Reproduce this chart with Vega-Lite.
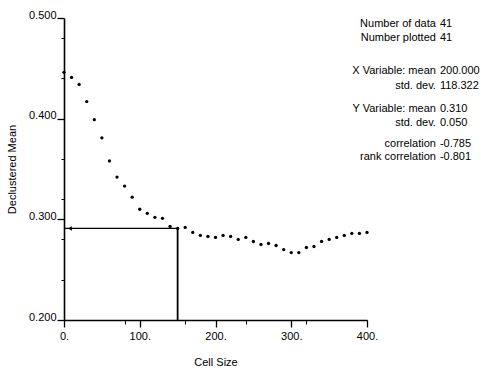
{
  "$schema": "https://vega.github.io/schema/vega-lite/v6.json",
  "width": 303,
  "height": 302,
  "padding": {"left": 6, "top": 9, "right": 0, "bottom": 0},
  "autosize": {"type": "pad"},
  "background": "white",
  "config": {
    "font": "Liberation Sans",
    "view": {"stroke": null},
    "axis": {
      "labelColor": "black",
      "labelFontSize": 11,
      "titleFontSize": 11,
      "titleFontWeight": "normal",
      "titleColor": "black",
      "tickColor": "black",
      "domainColor": "black"
    }
  },
  "layer": [
    {
      "layer": [
        {
          "data": {"values": [
            {"cell": 0, "mean": 0.446}, {"cell": 10, "mean": 0.441}, {"cell": 20, "mean": 0.434},
            {"cell": 30, "mean": 0.417}, {"cell": 40, "mean": 0.399}, {"cell": 50, "mean": 0.381},
            {"cell": 60, "mean": 0.358}, {"cell": 70, "mean": 0.342}, {"cell": 80, "mean": 0.333},
            {"cell": 90, "mean": 0.322}, {"cell": 100, "mean": 0.310}, {"cell": 110, "mean": 0.306},
            {"cell": 120, "mean": 0.302}, {"cell": 130, "mean": 0.301}, {"cell": 140, "mean": 0.293},
            {"cell": 150, "mean": 0.291}, {"cell": 160, "mean": 0.292}, {"cell": 170, "mean": 0.287},
            {"cell": 180, "mean": 0.284}, {"cell": 190, "mean": 0.283}, {"cell": 200, "mean": 0.282},
            {"cell": 210, "mean": 0.284}, {"cell": 220, "mean": 0.283}, {"cell": 230, "mean": 0.280},
            {"cell": 240, "mean": 0.282}, {"cell": 250, "mean": 0.278}, {"cell": 260, "mean": 0.275},
            {"cell": 270, "mean": 0.276}, {"cell": 280, "mean": 0.274}, {"cell": 290, "mean": 0.270},
            {"cell": 300, "mean": 0.267}, {"cell": 310, "mean": 0.267}, {"cell": 320, "mean": 0.272},
            {"cell": 330, "mean": 0.273}, {"cell": 340, "mean": 0.278}, {"cell": 350, "mean": 0.280},
            {"cell": 360, "mean": 0.282}, {"cell": 370, "mean": 0.284}, {"cell": 380, "mean": 0.286},
            {"cell": 390, "mean": 0.286}, {"cell": 400, "mean": 0.287}
          ]},
          "mark": {"type": "point", "filled": true, "size": 11, "color": "black", "opacity": 1},
          "encoding": {
            "x": {
              "field": "cell", "type": "quantitative", "title": null,
              "scale": {"domain": [0, 400]},
              "axis": {
                "grid": false,
                "values": [0, 20, 40, 60, 80, 100, 120, 140, 160, 180, 200, 220, 240, 260, 280, 300, 320, 340, 360, 380, 400],
                "labels": false,
                "tickSize": 4,
                "tickWidth": 1,
                "domainWidth": 1.6
              }
            },
            "y": {
              "field": "mean", "type": "quantitative", "title": null,
              "scale": {"domain": [0.2, 0.5]},
              "axis": {
                "grid": false,
                "values": [0.2, 0.22, 0.24, 0.26, 0.28, 0.3, 0.32, 0.34, 0.36, 0.38, 0.4, 0.42, 0.44, 0.46, 0.48, 0.5],
                "labels": false,
                "tickSize": 3,
                "tickWidth": 1,
                "domainWidth": 1.6
              }
            }
          }
        },
        {
          "data": {"values": [{"x0": 0, "x1": 150, "y0": 0.291, "y1": 0.2}]},
          "layer": [
            {
              "mark": {"type": "rule", "color": "black", "strokeWidth": 1.3},
              "encoding": {
                "x": {"field": "x0", "type": "quantitative", "title": null},
                "x2": {"field": "x1"},
                "y": {"field": "y0", "type": "quantitative", "title": null}
              }
            },
            {
              "mark": {"type": "rule", "color": "black", "strokeWidth": 1.8},
              "encoding": {
                "x": {"field": "x1", "type": "quantitative", "title": null},
                "y": {"field": "y0", "type": "quantitative", "title": null},
                "y2": {"field": "y1"}
              }
            },
            {
              "mark": {"type": "point", "shape": "triangle-left", "filled": true, "color": "black", "opacity": 1, "size": 20, "xOffset": 6},
              "encoding": {
                "x": {"field": "x0", "type": "quantitative", "title": null},
                "y": {"field": "y0", "type": "quantitative", "title": null}
              }
            }
          ]
        }
      ]
    },
    {
      "data": {"values": [{"x0": 0, "y0": 0.291}]},
      "mark": {"type": "point", "opacity": 0},
      "encoding": {
        "x": {
          "field": "x0", "type": "quantitative", "title": "Cell Size",
          "scale": {"domain": [0, 400]},
          "axis": {
            "orient": "bottom",
            "grid": false,
            "values": [0, 100, 200, 300, 400],
            "labelExpr": "datum.value + '.'",
            "labelFlush": false,
            "labelOverlap": false,
            "tickSize": 7,
            "tickWidth": 1.3,
            "domain": false,
            "labelPadding": 3,
            "titlePadding": 15
          }
        },
        "y": {
          "field": "y0", "type": "quantitative", "title": "Declustered Mean",
          "scale": {"domain": [0.2, 0.5]},
          "axis": {
            "orient": "left",
            "grid": false,
            "values": [0.2, 0.3, 0.4, 0.5],
            "format": ".3f",
            "labelFlush": false,
            "labelOverlap": false,
            "tickSize": 7,
            "tickWidth": 1.3,
            "domain": false,
            "labelBaseline": "alphabetic",
            "labelPadding": 1,
            "titlePadding": 11
          }
        }
      }
    },
    {
      "data": {"values": [
        {"label": "Number of data", "value": "41", "line": 0},
        {"label": "Number plotted", "value": "41", "line": 1},
        {"label": "X Variable: mean", "value": "200.000", "line": 3.29},
        {"label": "std. dev.", "value": "118.322", "line": 4.36},
        {"label": "Y Variable: mean", "value": "0.310", "line": 6.07},
        {"label": "std. dev.", "value": "0.050", "line": 7.07},
        {"label": "correlation", "value": "-0.785", "line": 8.57},
        {"label": "rank correlation", "value": "-0.801", "line": 9.5}
      ]},
      "encoding": {
        "x": {"datum": 1.234, "type": "quantitative", "scale": {"domain": [0, 1], "nice": false, "zero": false}, "axis": null},
        "y": {"field": "line", "type": "quantitative", "scale": {"domain": [-0.464, 21.11], "reverse": true, "nice": false, "zero": false}, "axis": null}
      },
      "layer": [
        {"mark": {"type": "text", "align": "right", "baseline": "middle", "dx": -2, "fontSize": 11, "color": "black"}, "encoding": {"text": {"field": "label"}}},
        {"mark": {"type": "text", "align": "left", "baseline": "middle", "dx": 2, "fontSize": 11, "color": "black"}, "encoding": {"text": {"field": "value"}}}
      ]
    }
  ],
  "resolve": {"scale": {"x": "independent", "y": "independent"}}
}
